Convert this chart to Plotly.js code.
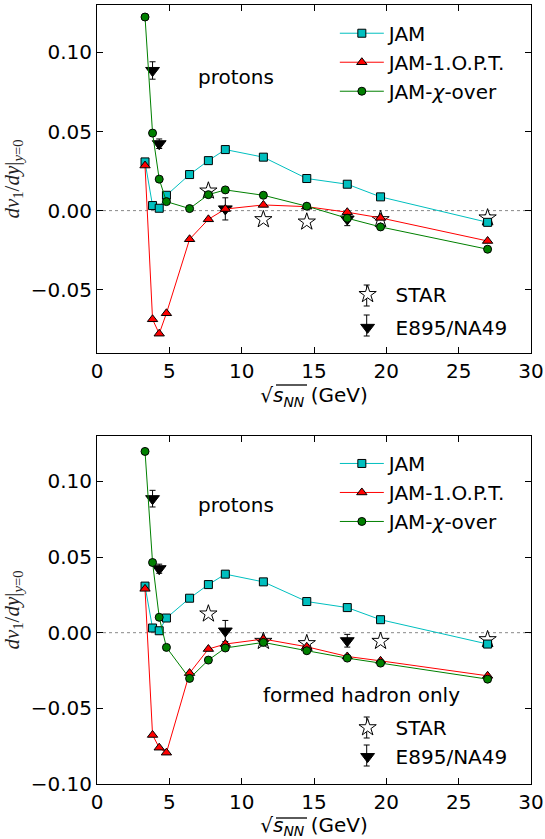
<!DOCTYPE html>
<html>
<head>
<meta charset="utf-8">
<script src="https://cdn.plot.ly/plotly-3.0.1.min.js"></script>
<style>html,body{margin:0;padding:0;background:#fff;}</style>
</head>
<body>
<div id="chart" style="width:545px;height:839px;"></div>
<script>
// ---- data ----
const jamX   = [3.32, 3.84, 4.3, 4.8, 6.4, 7.7, 8.87, 11.5, 14.5, 17.3, 19.6, 27];
const jamTop = [0.0308, 0.0032, 0.0015, 0.0097, 0.0228, 0.0316, 0.0386, 0.0338, 0.0203, 0.0167, 0.0087, -0.0074];
const optTop = [0.0285, -0.0687, -0.0778, -0.0649, -0.0181, -0.0055, 0.0010, 0.0036, 0.0025, -0.0010, -0.0046, -0.0192];
const chiTop = [0.1224, 0.0490, 0.0199, 0.0057, 0.0013, 0.0101, 0.0131, 0.0097, 0.0028, -0.0048, -0.0103, -0.0244];

const jamBot = [0.0308, 0.0031, 0.0013, 0.0097, 0.0228, 0.0318, 0.0387, 0.0336, 0.0206, 0.0166, 0.0086, -0.0075];
const optBot = [0.0290, -0.0676, -0.0760, -0.0793, -0.0267, -0.0108, -0.0075, -0.0042, -0.0093, -0.0157, -0.0186, -0.0285];
const chiBot = [0.1198, 0.0464, 0.0102, -0.0097, -0.0302, -0.0181, -0.0101, -0.0064, -0.0119, -0.0168, -0.0201, -0.0307];

const starX   = [7.7, 11.5, 14.5, 19.6, 27];
const starY   = [0.0125, -0.0056, -0.0071, -0.0056, -0.0045];
const starErr = [0.0015, 0.0015, 0.0015, 0.0015, 0.002];

const e895X   = [3.84, 4.3, 8.87, 17.3];
const e895Y   = [0.0886, 0.0423, 0.0011, -0.0053];
const e895Err = [0.0055, 0.0030, 0.0070, 0.0042];

const xTicks = [0, 5, 10, 15, 20, 25, 30];
const yTicks = [-0.10, -0.05, 0.00, 0.05, 0.10];

// ---- styling ----
const FONT = {family: 'DejaVu Sans', size: 20, color: '#000'};
const cyan = '#00BFBF', red = '#FF0000', green = '#008000';

function modelTraces(xa, ya, jam, opt, chi, leg) {
  return [
    {x: jamX, y: jam, xaxis: xa, yaxis: ya, type: 'scatter', mode: 'lines+markers', name: 'JAM',
     legend: leg, legendgroup: leg + 'a',
     line: {color: cyan, width: 1}, marker: {symbol: 'square', size: 8, color: cyan, line: {color: '#000', width: 1}}},
    {x: jamX, y: opt, xaxis: xa, yaxis: ya, type: 'scatter', mode: 'lines+markers', name: 'JAM-1.O.P.T.',
     legend: leg, legendgroup: leg + 'b',
     line: {color: red, width: 1}, marker: {symbol: 'triangle-up', size: 9, color: red, line: {color: '#000', width: 1}}},
    {x: jamX, y: chi, xaxis: xa, yaxis: ya, type: 'scatter', mode: 'lines+markers', name: 'JAM-<i>χ</i>-over',
     legend: leg, legendgroup: leg + 'c',
     line: {color: green, width: 1}, marker: {symbol: 'circle', size: 8, color: green, line: {color: '#000', width: 1}}}
  ];
}
function dataTraces(xa, ya, leg, grouped) {
  return [
    {x: starX, y: starY, xaxis: xa, yaxis: ya, type: 'scatter', mode: 'markers', name: 'STAR',
     legend: leg, legendgroup: leg + 'a',
     error_y: {type: 'data', array: starErr, visible: true, color: '#000', thickness: 1, width: 3},
     marker: {symbol: 'star', size: 13, color: '#fff', line: {color: '#000', width: 1}}},
    {x: e895X, y: e895Y, xaxis: xa, yaxis: ya, type: 'scatter', mode: 'markers', name: 'E895/NA49',
     legend: leg, legendgroup: leg + (grouped ? 'a' : 'b'),
     error_y: {type: 'data', array: e895Err, visible: true, color: '#000', thickness: 1, width: 3},
     marker: {symbol: 'triangle-down', size: 12, color: '#000', line: {color: '#000', width: 1}}}
  ];
}

const traces = [].concat(
  dataTraces('x', 'y', 'legend2', false),
  modelTraces('x', 'y', jamTop, optTop, chiTop, 'legend'),
  dataTraces('x2', 'y2', 'legend4', true),
  modelTraces('x2', 'y2', jamBot, optBot, chiBot, 'legend3')
);

const xTitle = '√<i>s</i><sub><i>NN</i></sub> (GeV)';
const yTitle = '<i>dv</i><sub>1</sub>/<i>dy</i>|<sub><i>y</i>=0</sub>';

function xAxis(anchor) {
  return {
    anchor: anchor, domain: [0, 1], range: [0, 30], tickvals: xTicks, ticktext: xTicks.map(String),
    ticks: 'inside', ticklen: 6, tickcolor: '#000', mirror: 'ticks', showline: true, linecolor: '#000', linewidth: 1,
    showgrid: false, zeroline: false, tickfont: FONT,
    title: {text: xTitle, font: FONT, standoff: 6}
  };
}
function yAxis(anchor, domain, range) {
  return {
    anchor: anchor, domain: domain, range: range, tickvals: yTicks, tickformat: '.2f',
    ticks: 'inside', ticklen: 6, tickcolor: '#000', mirror: 'ticks', showline: true, linecolor: '#000', linewidth: 1,
    showgrid: false, zeroline: false, tickfont: FONT,
    title: {text: yTitle, font: {family: 'Liberation Serif', size: 21, color: '#222'}, standoff: 8}
  };
}
function legendBox(x, y, gap, iw) {
  return {x: x, y: y, xanchor: 'left', yanchor: 'top', xref: 'paper', yref: 'paper',
    bgcolor: 'rgba(0,0,0,0)', borderwidth: 0, font: FONT, tracegroupgap: gap, itemwidth: iw};
}

const py = p => (784 - p) / 779;
const px = p => (p - 97) / 434;
// small error-bar glyphs next to the data legend markers (paper coords)
function legendBar(xPx, yTopPx, yBotPx) {
  const xp = px(xPx), cx = 3 / 434;
  return {type: 'path', xref: 'paper', yref: 'paper', line: {color: '#000', width: 1},
    path: `M${xp},${py(yTopPx)} L${xp},${py(yBotPx)} M${xp - cx},${py(yTopPx)} L${xp + cx},${py(yTopPx)} M${xp - cx},${py(yBotPx)} L${xp + cx},${py(yBotPx)}`};
}
// vinculum of the square root in the x title
function vinculum(yPx) {
  return {type: 'line', xref: 'paper', yref: 'paper', x0: px(276), x1: px(307), y0: py(yPx), y1: py(yPx),
    line: {color: '#000', width: 1.3}};
}

const layout = {
  width: 545, height: 839,
  margin: {l: 97, r: 14, t: 5, b: 55},
  paper_bgcolor: '#fff', plot_bgcolor: '#fff',
  font: FONT,
  xaxis: xAxis('y'),
  yaxis: yAxis('x', [0.5533, 1], [-0.09, 0.13]),
  xaxis2: xAxis('y2'),
  yaxis2: yAxis('x2', [0, 0.4467], [-0.10, 0.13]),
  legend: legendBox(0.548, 0.9888, 0, 44),
  legend2: legendBox(0.559, 0.6536, 4, 46),
  legend3: legendBox(0.548, 0.4365, 0, 44),
  legend4: legendBox(0.559, 0.0975, 0, 46),
  showlegend: true,
  shapes: [
    {type: 'line', xref: 'x domain', yref: 'y', x0: 0, x1: 1, y0: 0, y1: 0, line: {color: '#888', width: 1, dash: 'dot'}, layer: 'below'},
    {type: 'line', xref: 'x2 domain', yref: 'y2', x0: 0, x1: 1, y0: 0, y1: 0, line: {color: '#888', width: 1, dash: 'dot'}, layer: 'below'},
    legendBar(366.7, 285, 306),
    legendBar(366.7, 315, 336),
    legendBar(366.7, 717, 738),
    legendBar(366.7, 745, 766),
    vinculum(385),
    vinculum(818)
  ],
  annotations: [
    {text: 'protons', xref: 'x', yref: 'y', x: 9.63, y: 0.0842, showarrow: false, font: FONT},
    {text: 'protons', xref: 'x2', yref: 'y2', x: 9.63, y: 0.0847, showarrow: false, font: FONT},
    {text: 'formed hadron only', xref: 'x2', yref: 'y2', x: 18.28, y: -0.0413, showarrow: false, font: FONT}
  ]
};

Plotly.newPlot('chart', traces, layout, {displayModeBar: false, staticPlot: true});
</script>
</body>
</html>
